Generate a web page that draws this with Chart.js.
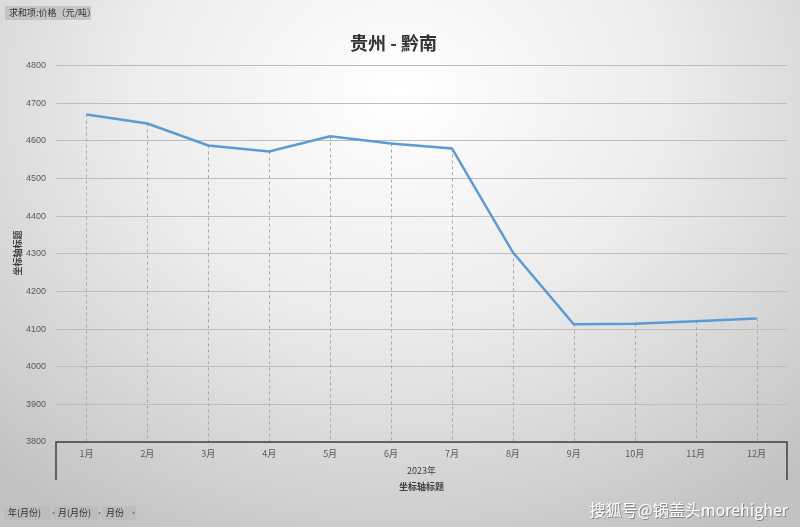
<!DOCTYPE html>
<html>
<head>
<meta charset="utf-8">
<script src="https://cdn.jsdelivr.net/npm/chart.js@4"></script>
<style>
  html, body { margin: 0; padding: 0; }
  #wrap {
    width: 800px; height: 527px; position: relative;
    background: radial-gradient(ellipse 75% 95% at 50% 18%, #ffffff 0%, #ececec 45%, #d2d2d2 80%, #c2c2c2 100%);
  }
</style>
</head>
<body>
<div id="wrap"><canvas id="chart" width="800" height="527"></canvas></div>
<script>
// 贵州 - 黔南 价格数据（元/吨）
const months = ['1月', '2月', '3月', '4月', '5月', '6月', '7月', '8月', '9月', '10月', '11月', '12月'];
const prices = [4670, 4646, 4588, 4572, 4612, 4593, 4580, 4304, 4113, 4114, 4121, 4128];
const yTicks = [3800, 3900, 4000, 4100, 4200, 4300, 4400, 4500, 4600, 4700, 4800];

const cjk = '"Noto Sans CJK SC", "Microsoft YaHei", sans-serif';

// 垂直虚线（垂线）、X轴括号以及各种标签
const extras = {
    id: 'extras',
    beforeDatasetsDraw(chart) {
        const { ctx, chartArea } = chart;
        const meta = chart.getDatasetMeta(0);
        ctx.save();
        ctx.strokeStyle = '#a8a8a8';
        ctx.lineWidth = 1;
        ctx.setLineDash([3, 3]);
        meta.data.forEach(pt => {
            ctx.beginPath();
            ctx.moveTo(Math.round(pt.x) + 0.5, pt.y);
            ctx.lineTo(Math.round(pt.x) + 0.5, chartArea.bottom);
            ctx.stroke();
        });
        ctx.restore();
    },
    afterDraw(chart) {
        const { ctx, chartArea } = chart;
        const l = chartArea.left, r = chartArea.right, b = chartArea.bottom;
        ctx.save();
        // 括号
        ctx.strokeStyle = '#404040';
        ctx.lineWidth = 1.5;
        ctx.beginPath();
        ctx.moveTo(l, b + 38);
        ctx.lineTo(l, b);
        ctx.lineTo(r, b);
        ctx.lineTo(r, b + 38);
        ctx.stroke();

        ctx.fillStyle = '#404040';
        ctx.textAlign = 'center';
        ctx.textBaseline = 'middle';
        ctx.font = '9px ' + cjk;
        ctx.fillText('2023年', (l + r) / 2, 471);
        ctx.font = 'bold 9px ' + cjk;
        ctx.fillText('坐标轴标题', (l + r) / 2, 487);

        // Y轴标题
        ctx.save();
        ctx.translate(18, 253);
        ctx.rotate(-Math.PI / 2);
        ctx.fillText('坐标轴标题', 0, 0);
        ctx.restore();

        // 字段按钮
        const button = (text, x, y, w) => {
            ctx.fillStyle = 'rgba(185,185,185,0.7)';
            ctx.fillRect(x, y - 7, w, 14);
            ctx.fillStyle = '#303030';
            ctx.textAlign = 'left';
            ctx.font = '9px ' + cjk;
            ctx.fillText(text, x + 4, y);
        };
        button('求和项:价格（元/吨）', 5, 13, 86);
        button('年(月份)', 4, 513, 46);
        button('月(月份)', 54, 513, 44);
        button('月份', 102, 513, 34);
        ctx.fillStyle = '#707070';
        ctx.fillText('·', 49, 513);
        ctx.fillText('·', 95, 513);
        ctx.fillText('·', 129, 513);

        // 水印
        ctx.font = '16px ' + cjk;
        ctx.textAlign = 'right';
        ctx.fillStyle = 'rgba(90,90,90,0.6)';
        ctx.fillText('搜狐号@锅盖头morehigher', 789, 511);
        ctx.fillStyle = '#ffffff';
        ctx.fillText('搜狐号@锅盖头morehigher', 788, 510);
        ctx.restore();
    }
};

new Chart(document.getElementById('chart'), {
    type: 'line',
    data: {
        labels: months,
        datasets: [{
            label: '价格',
            data: prices,
            borderColor: '#5b9bd5',
            borderWidth: 2.5,
            pointRadius: 0,
            tension: 0,
            fill: false
        }]
    },
    options: {
        responsive: false,
        animation: false,
        layout: { padding: { left: 0, right: 13, top: 0, bottom: 0 } },
        plugins: {
            legend: { display: false },
            tooltip: { enabled: false },
            title: {
                display: true,
                text: '贵州 - 黔南',
                color: '#333333',
                font: { size: 18, weight: 'bold', family: cjk },
                padding: { top: 32, bottom: 12 }
            }
        },
        scales: {
            x: {
                offset: true,
                grid: { display: false, drawTicks: false },
                border: { display: false },
                ticks: { color: '#595959', font: { size: 9, family: cjk }, padding: 6, maxRotation: 0 },
                afterFit: s => { s.height = 85; }
            },
            y: {
                min: 3800,
                max: 4800,
                afterBuildTicks: s => { s.ticks = yTicks.map(v => ({ value: v })); },
                grid: { color: '#bdbdbd', lineWidth: 1, drawTicks: false },
                border: { display: false },
                ticks: {
                    color: '#595959',
                    font: { size: 9, family: '"Liberation Sans", sans-serif' },
                    padding: 10,
                    callback: v => String(v)
                },
                afterFit: s => { s.width = 56; }
            }
        }
    },
    plugins: [extras]
});
</script>
</body>
</html>
